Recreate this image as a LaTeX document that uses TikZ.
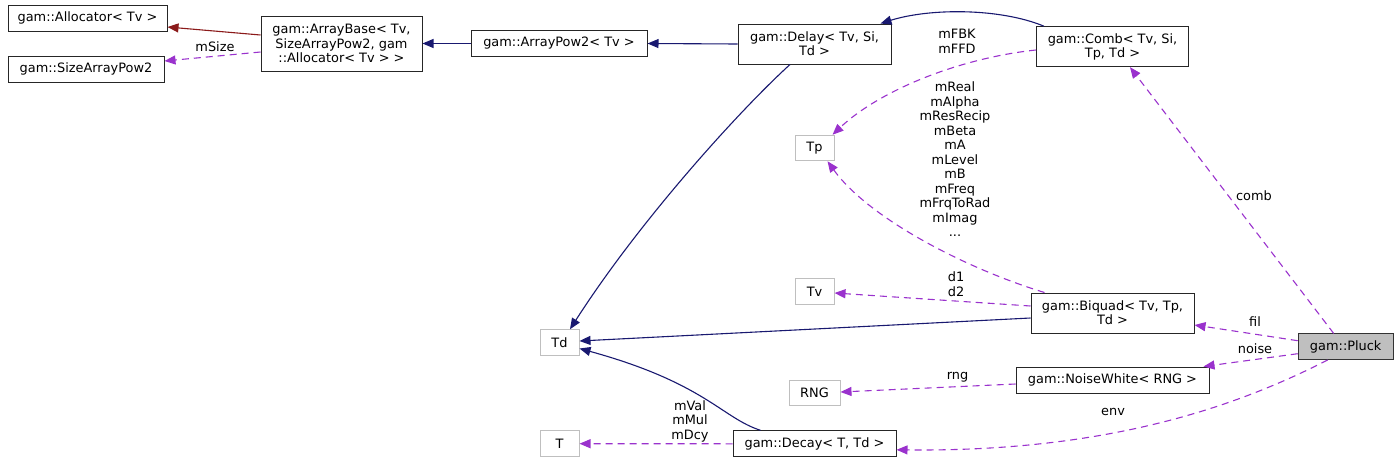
\documentclass[tikz,border=0pt]{standalone}
\usepackage{fontspec}
\setmainfont{DejaVu Sans}
\usetikzlibrary{arrows.meta,positioning}
\definecolor{InhBlue}{HTML}{191970}
\definecolor{InhRed}{HTML}{8B1A1A}
\definecolor{UsePurple}{HTML}{9A32CD}
\definecolor{ParamGray}{HTML}{BFBFBF}
\definecolor{FocusGray}{HTML}{BFBFBF}

\begin{document}
\begin{tikzpicture}[
  x=1pt,y=-1pt,
  cls/.style={
    draw=black!85,
    line width=1pt,
    fill=white,
    align=center,
    inner sep=0pt,
    font=\fontsize{12.9}{14.3}\selectfont
  },
  tparam/.style={
    cls,
    draw=ParamGray,
    minimum width=39pt,
    minimum height=25.5pt
  },
  focus/.style={
    cls,
    fill=FocusGray,
    draw=black!80
  },
  pubinh/.style={
    -{Triangle[length=11pt,width=9pt]},
    line width=1.1pt,
    draw=InhBlue
  },
  privinh/.style={
    -{Triangle[length=11pt,width=9pt]},
    line width=1.1pt,
    draw=InhRed
  },
  uses/.style={
    -{Triangle[length=11pt,width=9pt]},
    line width=1.1pt,
    dash pattern=on 7pt off 5pt,
    draw=UsePurple
  },
  elabel/.style={
    align=center,
    inner sep=0pt,
    font=\fontsize{12.9}{14.5}\selectfont
  }
]
\useasboundingbox (0,0) rectangle (1399,463);

% -------------------------------------------------
% Base classes (top row)
% -------------------------------------------------
\node[cls, minimum width=159pt, minimum height=26pt] (allocator) at (87.5,18)
{gam::Allocator< Tv >};

\node[cls, minimum width=156pt, minimum height=26pt] (sizearr) at (86,69)
{gam::SizeArrayPow2};

\node[cls, minimum width=161pt, minimum height=55pt] (arraybase) at (341.5,43.5)
{gam::ArrayBase< Tv,\\SizeArrayPow2, gam\\::Allocator< Tv > >};

\node[cls, minimum width=176pt, minimum height=26pt] (arraypow2) at (559,43.5)
{gam::ArrayPow2< Tv >};

\node[cls, minimum width=153pt, minimum height=40pt] (delay) at (814.5,44)
{gam::Delay< Tv, Si,\\Td >};

\node[cls, minimum width=152pt, minimum height=40pt] (comb) at (1112.5,46.7)
{gam::Comb< Tv, Si,\\Tp, Td >};

% -------------------------------------------------
% Template parameters
% -------------------------------------------------
\node[tparam] (tp) at (814.5,148) {Tp};
\node[tparam] (tv) at (814.5,291.5) {Tv};
\node[tparam] (td) at (559.5,342.5) {Td};
\node[tparam, minimum width=51pt] (rng) at (814.5,393) {RNG};
\node[tparam] (tt) at (559.5,443.7) {T};

% -------------------------------------------------
% Members of gam::Pluck
% -------------------------------------------------
\node[cls, minimum width=163pt, minimum height=40pt] (biquad) at (1112.5,313)
{gam::Biquad< Tv, Tp,\\Td >};

\node[cls, minimum width=193pt, minimum height=26pt] (noise) at (1112.5,380)
{gam::NoiseWhite< RNG >};

\node[cls, minimum width=163pt, minimum height=26pt] (decay) at (814.5,443.8)
{gam::Decay< T, Td >};

\node[focus, minimum width=95pt, minimum height=25.5pt] (pluck) at (1345.7,346.7)
{gam::Pluck};

% -------------------------------------------------
% Inheritance
% -------------------------------------------------
\draw[privinh] ([yshift=8.5pt]arraybase.west) -- ([yshift=-9pt]allocator.east);
\draw[pubinh] (arraypow2.west) -- (arraybase.east);
\draw[pubinh] (delay.west) -- (arraypow2.east);
\draw[pubinh] ([xshift=8pt]comb.north west)
  .. controls (1000,8) and (930,8) .. ([xshift=-11pt]delay.north east);
\draw[pubinh] ([xshift=-24.5pt]delay.south)
  .. controls (740,110) and (640,220) .. ([xshift=10.5pt]td.north);
\draw[pubinh] ([yshift=-5pt]biquad.west) -- ([yshift=1.5pt]td.east);
\draw[pubinh] ([xshift=-54pt]decay.north)
  .. controls (722,418) and (705,383) .. ([yshift=-6pt]td.east);

% -------------------------------------------------
% Usage relations
% -------------------------------------------------
\draw[uses] ([yshift=-8.5pt]arraybase.west) -- ([yshift=8pt]sizearr.east);
\node[elabel] (lsize) at (215,47) {mSize};

\draw[uses] ([yshift=-3.3pt]comb.west)
  .. controls (960,58) and (880,90) .. ([xshift=-2pt]tp.north east);
\node[elabel] (lcombtp) at (957,41.5) {mFBK\\mFFD};

\draw[uses] ([xshift=14pt]biquad.north west)
  .. controls (970,270) and (870,220) .. ([xshift=-7pt]tp.south east);
\node[elabel] (lbiqtp) at (955,159.5)
{mReal\\mAlpha\\mResRecip\\mBeta\\mA\\mLevel\\mB\\mFreq\\mFrqToRad\\mImag\\...};

\draw[uses] ([yshift=7pt]biquad.west) -- ([yshift=-1.5pt]tv.east);
\node[elabel] (lbiqtv) at (956,284) {d1\\d2};

\draw[uses] (decay.west) -- (tt.east);
\node[elabel] (ldecay) at (690,421) {mVal\\mMul\\mDcy};

\draw[uses] ([yshift=-4pt]noise.west) -- ([yshift=1pt]rng.east);
\node[elabel] (lrng) at (957.5,377.3) {rng};

% Pluck members
\draw[uses] ([xshift=-12pt]pluck.north) -- ([xshift=17.5pt]comb.south);
\node[elabel] (lcomb) at (1254,196) {comb};

\draw[uses] ([yshift=6pt]pluck.west) -- ([yshift=-12pt]biquad.east);
\node[elabel] (lfil) at (1255,321.7) {fil};

\draw[uses] ([yshift=-7pt]pluck.west) -- ([xshift=-6pt]noise.north east);
\node[elabel] (lnoise) at (1255,349) {noise};

\draw[uses] ([xshift=-18pt]pluck.south)
  .. controls (1230,410) and (1100,452) .. ([yshift=-6pt]decay.east);
\node[elabel] (lenv) at (1113,411.7) {env};

\end{tikzpicture}
\end{document}
